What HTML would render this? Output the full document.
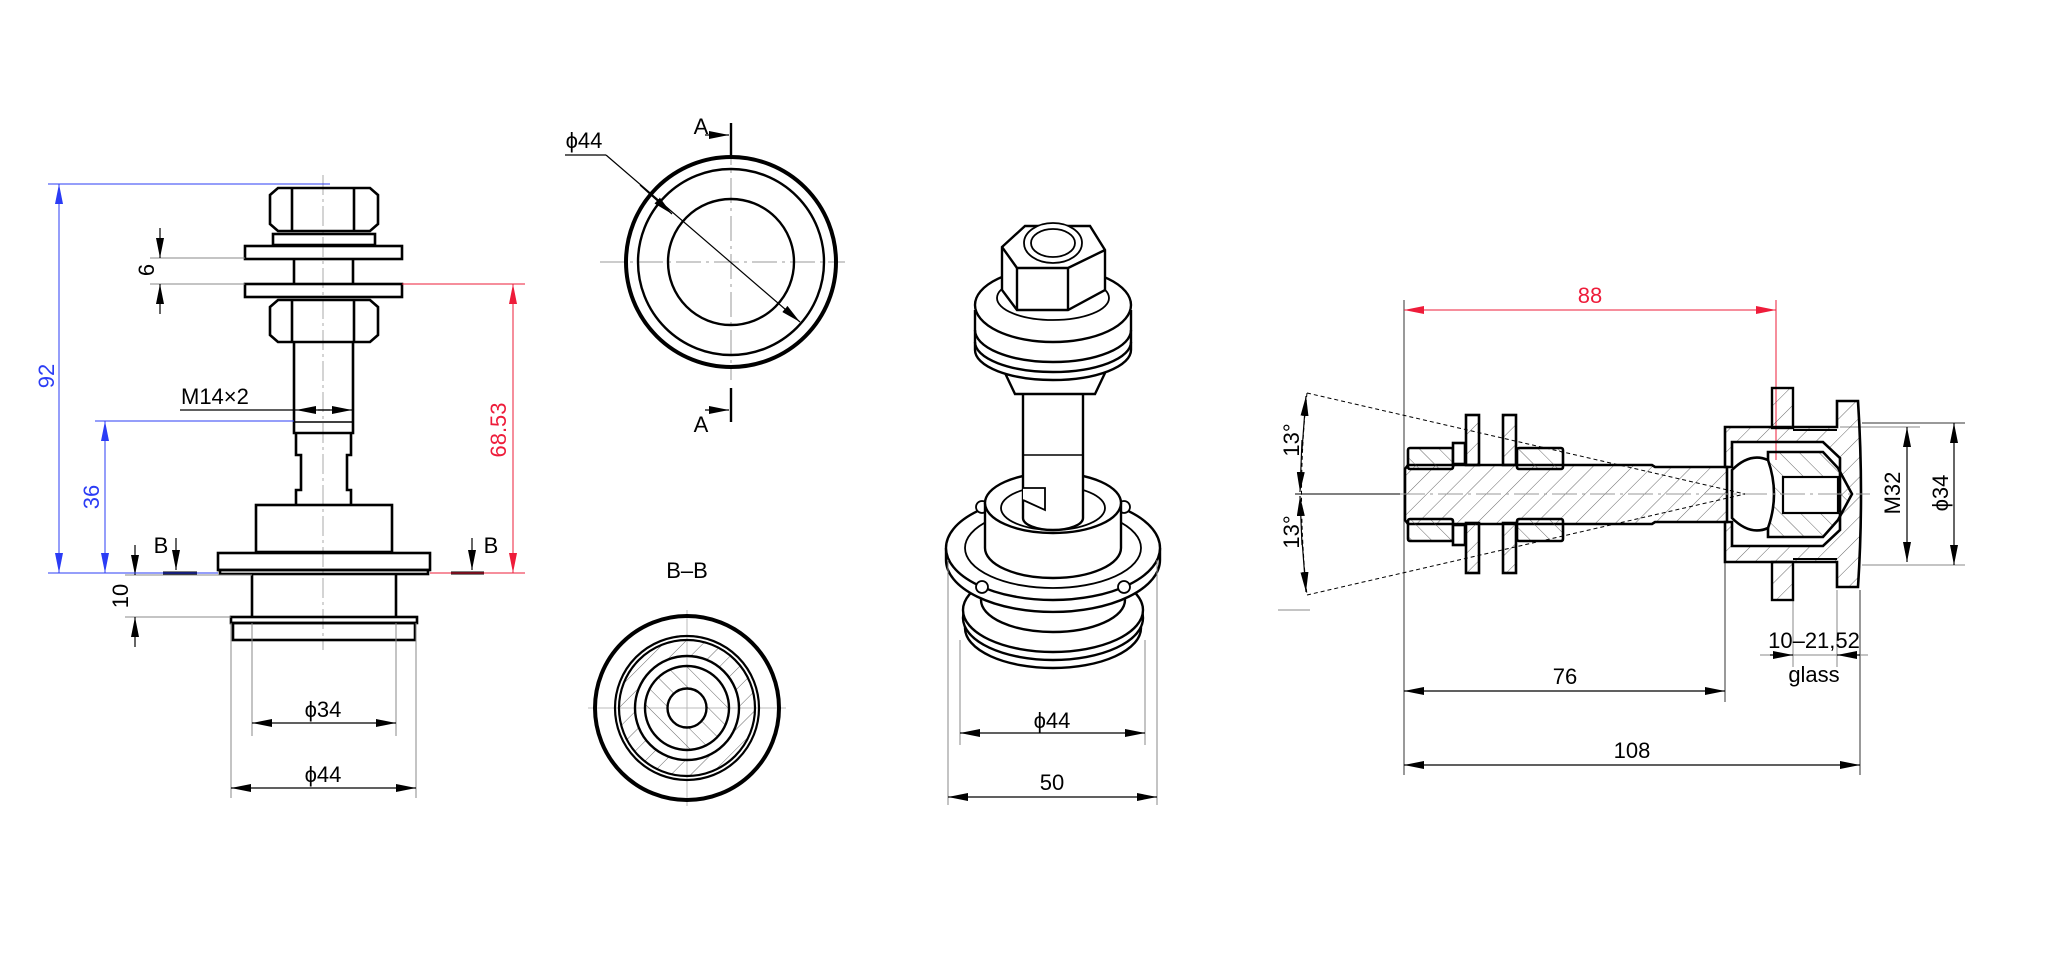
<!DOCTYPE html>
<html><head><meta charset="utf-8"><style>
html,body{margin:0;padding:0;background:#fff}
svg{display:block}
text{font-family:"Liberation Sans",sans-serif}
</style></head><body>
<svg width="2048" height="953" viewBox="0 0 2048 953" xmlns="http://www.w3.org/2000/svg">
<defs>
<marker id="a" viewBox="0 0 20 8" refX="20" refY="4" markerWidth="20" markerHeight="8" markerUnits="userSpaceOnUse" orient="auto-start-reverse"><path d="M0,0L20,4L0,8z" fill="#000"/></marker>
<marker id="ab" viewBox="0 0 20 8" refX="20" refY="4" markerWidth="20" markerHeight="8" markerUnits="userSpaceOnUse" orient="auto-start-reverse"><path d="M0,0L20,4L0,8z" fill="#2b3cf5"/></marker>
<marker id="ar" viewBox="0 0 20 8" refX="20" refY="4" markerWidth="20" markerHeight="8" markerUnits="userSpaceOnUse" orient="auto-start-reverse"><path d="M0,0L20,4L0,8z" fill="#ee1c3a"/></marker>
<pattern id="h1" width="14" height="14" patternUnits="userSpaceOnUse" patternTransform="rotate(45)"><line x1="0" y1="0" x2="0" y2="14" stroke="#444" stroke-width="0.8"/></pattern>
<pattern id="h2" width="14" height="14" patternUnits="userSpaceOnUse" patternTransform="rotate(-45)"><line x1="0" y1="0" x2="0" y2="14" stroke="#444" stroke-width="0.8"/></pattern>
</defs>
<rect width="2048" height="953" fill="#fff"/>

<!-- ============ LEFT VIEW ============ -->
<g fill="none" stroke="#000" stroke-width="2.6">
<line x1="323" y1="175" x2="323" y2="650" stroke="#aaa" stroke-width="1" stroke-dasharray="20 4 3 4"/>
<path d="M278,188 H370 L378,195 V224 L370,231 H278 L270,224 V195 Z"/>
<line x1="292" y1="188" x2="292" y2="231"/><line x1="354" y1="188" x2="354" y2="231"/>
<rect x="273" y="234" width="102" height="11"/>
<rect x="245" y="246" width="157" height="13"/>
<line x1="294" y1="259" x2="294" y2="284"/><line x1="353" y1="259" x2="353" y2="284"/>
<rect x="245" y="284" width="157" height="13"/>
<path d="M278,300 H370 L378,307 V335 L370,342 H278 L270,335 V307 Z"/>
<line x1="292" y1="300" x2="292" y2="342"/><line x1="354" y1="300" x2="354" y2="342"/>
<path d="M294,342 V433 H353 V342"/>
<line x1="294" y1="422" x2="353" y2="422" stroke-width="1.5"/>
<path d="M296,433 V455 H301 V490 H296 V505 M351,433 V455 H347 V490 H351 V505"/>
<rect x="256" y="505" width="136" height="47"/>
<rect x="218" y="553" width="212" height="17"/>
<rect x="220" y="570" width="208" height="4"/>
<line x1="252" y1="575" x2="252" y2="617"/><line x1="396" y1="575" x2="396" y2="617"/>
<rect x="231" y="617" width="186" height="6"/>
<rect x="233" y="623" width="182" height="17"/>
</g>
<g stroke="#888" stroke-width="1" fill="none">
<line x1="252" y1="623" x2="252" y2="736"/><line x1="396" y1="623" x2="396" y2="736"/>
<line x1="231" y1="623" x2="231" y2="798"/><line x1="416" y1="623" x2="416" y2="798"/>
<line x1="150" y1="258" x2="245" y2="258"/><line x1="150" y1="284" x2="245" y2="284"/>
<line x1="125" y1="575" x2="252" y2="575"/><line x1="125" y1="617" x2="231" y2="617"/>
</g>
<g stroke="#000" stroke-width="1.2" fill="none">
<line x1="160" y1="228" x2="160" y2="258" marker-end="url(#a)"/>
<line x1="160" y1="314" x2="160" y2="284" marker-end="url(#a)"/>
<line x1="135" y1="545" x2="135" y2="575" marker-end="url(#a)"/>
<line x1="135" y1="647" x2="135" y2="617" marker-end="url(#a)"/>
<line x1="180" y1="410" x2="296" y2="410"/>
<line x1="330" y1="410" x2="296" y2="410" marker-end="url(#a)"/>
<line x1="318" y1="410" x2="352" y2="410" marker-end="url(#a)"/>
<line x1="252" y1="723" x2="396" y2="723" marker-start="url(#a)" marker-end="url(#a)"/>
<line x1="231" y1="788" x2="416" y2="788" marker-start="url(#a)" marker-end="url(#a)"/>
<line x1="176" y1="538" x2="176" y2="570" marker-end="url(#a)"/>
<line x1="472" y1="538" x2="472" y2="570" marker-end="url(#a)"/>
</g>
<line x1="163" y1="573" x2="197" y2="573" stroke="#000" stroke-width="3"/>
<line x1="451" y1="573" x2="484" y2="573" stroke="#000" stroke-width="3"/>
<g stroke="#2b3cf5" stroke-width="1" fill="none">
<line x1="48" y1="184" x2="330" y2="184"/><line x1="48" y1="573" x2="218" y2="573"/>
<line x1="95" y1="421" x2="294" y2="421"/>
<line x1="59" y1="184" x2="59" y2="573" marker-start="url(#ab)" marker-end="url(#ab)"/>
<line x1="105" y1="421" x2="105" y2="573" marker-start="url(#ab)" marker-end="url(#ab)"/>
</g>
<g stroke="#ee1c3a" stroke-width="1" fill="none">
<line x1="402" y1="284" x2="525" y2="284"/><line x1="430" y1="573" x2="525" y2="573"/>
<line x1="513" y1="284" x2="513" y2="573" marker-start="url(#ar)" marker-end="url(#ar)"/>
</g>
<g font-size="22">
<text x="54" y="376" fill="#2b3cf5" text-anchor="middle" transform="rotate(-90 54 376)">92</text>
<text x="99" y="497" fill="#2b3cf5" text-anchor="middle" transform="rotate(-90 99 497)">36</text>
<text x="506" y="430" fill="#ee1c3a" text-anchor="middle" transform="rotate(-90 506 430)">68.53</text>
<text x="154" y="270" text-anchor="middle" transform="rotate(-90 154 270)">6</text>
<text x="128" y="596" text-anchor="middle" transform="rotate(-90 128 596)">10</text>
<text x="181" y="404">M14×2</text>
<text x="161" y="553" text-anchor="middle">B</text>
<text x="491" y="553" text-anchor="middle">B</text>
<text x="323" y="717" text-anchor="middle">ϕ34</text>
<text x="323" y="782" text-anchor="middle">ϕ44</text>
</g>

<!-- ============ TOP VIEW A ============ -->
<g fill="none" stroke="#000">
<line x1="600" y1="262" x2="845" y2="262" stroke="#999" stroke-width="1" stroke-dasharray="25 5 3 5"/>
<line x1="731" y1="140" x2="731" y2="380" stroke="#999" stroke-width="1" stroke-dasharray="25 5 3 5"/>
<circle cx="731" cy="262" r="105" stroke-width="4"/>
<circle cx="731" cy="262" r="93" stroke-width="2.4"/>
<circle cx="731" cy="262" r="63" stroke-width="2.4"/>
<line x1="731" y1="123" x2="731" y2="155" stroke-width="2.4"/>
<line x1="731" y1="388" x2="731" y2="422" stroke-width="2.4"/>
<g stroke-width="1.2">
<line x1="705" y1="135" x2="729" y2="135" marker-end="url(#a)"/>
<line x1="705" y1="410" x2="729" y2="410" marker-end="url(#a)"/>
<line x1="565" y1="155" x2="606" y2="155"/>
<line x1="606" y1="155" x2="800" y2="322" marker-end="url(#a)"/>
<line x1="640" y1="185" x2="672" y2="214" marker-end="url(#a)"/>
</g>
</g>
<g font-size="22"><text x="701" y="134" text-anchor="middle">A</text><text x="701" y="432" text-anchor="middle">A</text><text x="584" y="148" text-anchor="middle">ϕ44</text></g>

<!-- ============ B-B ============ -->
<text x="687" y="578" font-size="22" text-anchor="middle">B–B</text>
<g fill="none" stroke="#000">
<line x1="588" y1="708" x2="786" y2="708" stroke="#bbb" stroke-width="1"/>
<line x1="687" y1="610" x2="687" y2="806" stroke="#bbb" stroke-width="1"/>
<path d="M687,639a69,69 0 1,0 0.01,0zM687,656a52,52 0 1,1 -0.01,0z" fill="url(#h1)" fill-rule="evenodd" stroke="none"/>
<path d="M687,666a42,42 0 1,0 0.01,0zM687,688.5a19.5,19.5 0 1,1 -0.01,0z" fill="url(#h2)" fill-rule="evenodd" stroke="none"/>
<circle cx="687" cy="708" r="92" stroke-width="4"/>
<circle cx="687" cy="708" r="72" stroke-width="2.2"/>
<circle cx="687" cy="708" r="68" stroke-width="2.2"/>
<circle cx="687" cy="708" r="52" stroke-width="2.4"/>
<circle cx="687" cy="708" r="42" stroke-width="2.4"/>
<circle cx="687" cy="708" r="19.5" stroke-width="2.4"/>
</g>

<!-- ============ ISO VIEW ============ -->
<g fill="#fff" stroke="#000" stroke-width="2.4">
<ellipse cx="1053" cy="628" rx="88" ry="40"/>
<ellipse cx="1053" cy="618" rx="90" ry="42"/>
<ellipse cx="1053" cy="610" rx="90" ry="42"/>
<ellipse cx="1053" cy="600" rx="72" ry="32"/>
<path d="M946,548 V560 A107,52 0 0,0 1160,560 V548"/>
<ellipse cx="1053" cy="548" rx="107" ry="52"/>
<ellipse cx="1053" cy="548" rx="88" ry="40" stroke-width="1.8"/>
<circle cx="982" cy="587" r="6" stroke-width="1.8"/><circle cx="1124" cy="587" r="6" stroke-width="1.8"/>
<circle cx="982" cy="507" r="6" stroke-width="1.8"/><circle cx="1124" cy="507" r="6" stroke-width="1.8"/>
<path d="M985,503 V548 A68,30 0 0,0 1121,548 V503"/>
<ellipse cx="1053" cy="503" rx="68" ry="30"/>
<ellipse cx="1053" cy="508" rx="52" ry="22" stroke-width="1.8"/>
<ellipse cx="1053" cy="512" rx="30" ry="14" stroke-width="1.8"/>
<path d="M1023,395 V518 A30,12 0 0,0 1083,518 V395"/>
<line x1="1023" y1="455" x2="1083" y2="455" stroke-width="1.4"/>
<path d="M1023,488 H1045 V510 L1023,500" stroke-width="1.8"/>
<path d="M1005,373 L1015,394 H1095 L1105,373 V370 H1005Z"/>
<path d="M975,310 V350 A78,30 0 0,0 1131,350 V310"/>
<path d="M975,330 A78,32 0 0,0 1131,330" fill="none"/>
<path d="M975,342 A78,30 0 0,0 1131,342" fill="none"/>
<ellipse cx="1053" cy="305" rx="78" ry="37"/>
<ellipse cx="1053" cy="298" rx="56" ry="22" stroke-width="1.8"/>
<path d="M1002,247 V290 L1017,310 H1068 L1105,290 V250 L1090,226 H1025 Z"/>
<path d="M1002,247 L1017,268 H1068 L1105,250" fill="none"/>
<line x1="1017" y1="268" x2="1017" y2="310"/><line x1="1068" y1="268" x2="1068" y2="310"/>
<ellipse cx="1053" cy="243" rx="29" ry="20" stroke-width="1.8"/>
<ellipse cx="1053" cy="243" rx="22" ry="14" stroke-width="1.8"/>
</g>
<g stroke="#888" stroke-width="1" fill="none">
<line x1="948" y1="560" x2="948" y2="805"/><line x1="1157" y1="560" x2="1157" y2="805"/>
<line x1="960" y1="640" x2="960" y2="745"/><line x1="1145" y1="640" x2="1145" y2="745"/>
</g>
<g stroke="#000" stroke-width="1.2">
<line x1="960" y1="733" x2="1145" y2="733" marker-start="url(#a)" marker-end="url(#a)"/>
<line x1="948" y1="797" x2="1157" y2="797" marker-start="url(#a)" marker-end="url(#a)"/>
</g>
<g font-size="22"><text x="1052" y="728" text-anchor="middle">ϕ44</text><text x="1052" y="790" text-anchor="middle">50</text></g>

<!-- ============ RIGHT VIEW ============ -->
<g stroke="#888" stroke-width="1" fill="none">
<line x1="1404" y1="300" x2="1404" y2="775" stroke="#333"/>
<line x1="1725" y1="560" x2="1725" y2="702" stroke="#333"/>
<line x1="1860" y1="590" x2="1860" y2="775" stroke="#333"/>
<line x1="1793" y1="600" x2="1793" y2="667"/><line x1="1837" y1="590" x2="1837" y2="667"/>
<line x1="1862" y1="423" x2="1965" y2="423" stroke="#333"/><line x1="1840" y1="427" x2="1920" y2="427"/>
<line x1="1862" y1="565" x2="1965" y2="565"/>
<line x1="1295" y1="494" x2="1404" y2="494" stroke="#000"/>
<line x1="1278" y1="610" x2="1310" y2="610"/>
<line x1="1760" y1="655" x2="1868" y2="655"/>
</g>
<g stroke="#ee1c3a" stroke-width="1" fill="none">
<line x1="1776" y1="300" x2="1776" y2="460"/>
<line x1="1404" y1="310" x2="1776" y2="310" marker-start="url(#ar)" marker-end="url(#ar)"/>
</g>
<text x="1590" y="303" font-size="22" fill="#ee1c3a" text-anchor="middle">88</text>
<path d="M1408,465 H1652 L1655,467 H1727 V522 H1655 L1652,524 H1408 L1405,520 V469 Z" fill="url(#h1)" stroke="#000" stroke-width="2.6"/>
<g fill="url(#h2)" stroke="#000" stroke-width="2.6">
<rect x="1408" y="448" width="45" height="21" rx="2"/><rect x="1408" y="519" width="45" height="22" rx="2"/>
<rect x="1517" y="448" width="46" height="21" rx="2"/><rect x="1517" y="519" width="46" height="22" rx="2"/>
</g>
<g fill="#fff" stroke="#000" stroke-width="2.6">
<rect x="1453" y="443" width="12" height="21"/><rect x="1453" y="525" width="12" height="20"/>
</g>
<g fill="url(#h1)" stroke="#000" stroke-width="2.6">
<rect x="1466" y="415" width="13" height="50"/><rect x="1466" y="523" width="13" height="50"/>
<rect x="1503" y="415" width="13" height="50"/><rect x="1503" y="523" width="13" height="50"/>
</g>
<path d="M1725,427 H1837 V401 H1858 Q1864,494 1858,587 H1837 V562 H1725 V522 H1732 V546 H1823 L1840,530 V458 L1823,442 H1732 V467 H1725 Z" fill="url(#h1)" stroke="#000" stroke-width="2.6"/>
<rect x="1772" y="388" width="21" height="40" fill="url(#h1)" stroke="#000" stroke-width="2.4"/>
<rect x="1772" y="562" width="21" height="38" fill="url(#h1)" stroke="#000" stroke-width="2.4"/>
<line x1="1793" y1="430" x2="1837" y2="430" stroke="#000" stroke-width="2"/>
<line x1="1793" y1="559" x2="1837" y2="559" stroke="#000" stroke-width="2"/>
<path d="M1768,452 H1823 L1838,468 L1852,494 L1838,520 L1823,537 H1768 Z" fill="url(#h2)" stroke="#000" stroke-width="2.6"/>
<rect x="1783" y="477" width="55" height="36" fill="#fff" stroke="#000" stroke-width="2.2"/>
<path d="M1732,470 Q1750,452 1768,460 Q1780,494 1768,528 Q1750,536 1732,518 Z" fill="#fff" stroke="#000" stroke-width="2.6"/>
<line x1="1400" y1="494" x2="1870" y2="494" stroke="#999" stroke-width="1" stroke-dasharray="25 5 3 5"/>
<g stroke="#000" stroke-width="1" stroke-dasharray="4 3" fill="none">
<line x1="1307" y1="393" x2="1745" y2="494"/><line x1="1307" y1="595" x2="1745" y2="494"/>
<path d="M1307,393 Q1296,494 1307,595"/>
</g>
<g stroke="#000" stroke-width="1.2" fill="none">
<line x1="1302" y1="450" x2="1306" y2="396" marker-end="url(#a)"/>
<line x1="1302" y1="440" x2="1300" y2="492" marker-end="url(#a)"/>
<line x1="1302" y1="545" x2="1300" y2="496" marker-end="url(#a)"/>
<line x1="1302" y1="540" x2="1306" y2="592" marker-end="url(#a)"/>
<line x1="1404" y1="691" x2="1725" y2="691" marker-start="url(#a)" marker-end="url(#a)"/>
<line x1="1404" y1="765" x2="1860" y2="765" marker-start="url(#a)" marker-end="url(#a)"/>
<line x1="1907" y1="427" x2="1907" y2="562" marker-start="url(#a)" marker-end="url(#a)"/>
<line x1="1954" y1="423" x2="1954" y2="565" marker-start="url(#a)" marker-end="url(#a)"/>
<line x1="1770" y1="655" x2="1793" y2="655" marker-end="url(#a)"/>
<line x1="1860" y1="655" x2="1837" y2="655" marker-end="url(#a)"/>
</g>
<g font-size="22">
<text x="1291" y="440" text-anchor="middle" transform="rotate(-90 1291 440)" dy="8">13°</text>
<text x="1291" y="532" text-anchor="middle" transform="rotate(-90 1291 532)" dy="8">13°</text>
<text x="1565" y="684" text-anchor="middle">76</text>
<text x="1632" y="758" text-anchor="middle">108</text>
<text x="1814" y="648" text-anchor="middle">10–21,52</text>
<text x="1814" y="682" text-anchor="middle">glass</text>
<text x="1892" y="493" text-anchor="middle" transform="rotate(-90 1892 493)" dy="8">M32</text>
<text x="1940" y="493" text-anchor="middle" transform="rotate(-90 1940 493)" dy="8">ϕ34</text>
</g>
</svg>
</body></html>
